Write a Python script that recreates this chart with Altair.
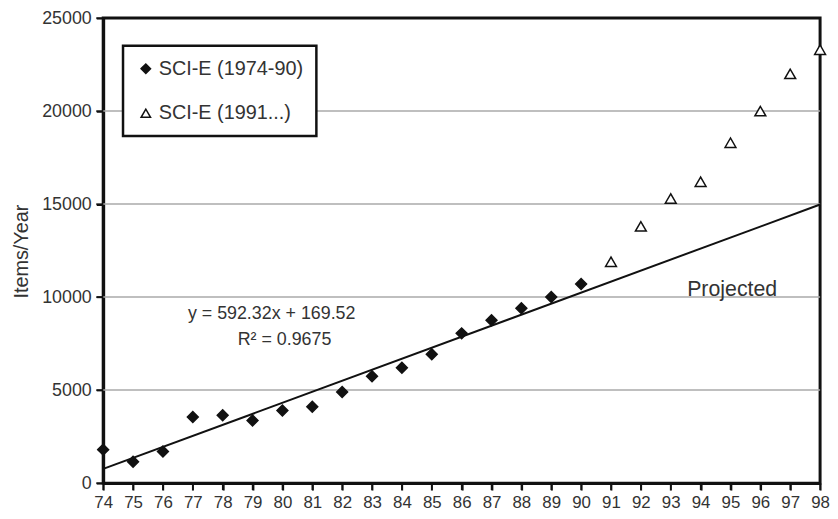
import altair as alt
import pandas as pd

# ---- data ----
years_a = [74, 75, 76, 77, 78, 79, 80, 81, 82, 83, 84, 85, 86, 87, 88, 89, 90]
vals_a = [1800, 1150, 1700, 3550, 3650, 3370, 3900, 4100, 4900, 5750, 6200, 6930, 8050, 8750, 9400, 10000, 10700]
years_b = [91, 92, 93, 94, 95, 96, 97, 98]
vals_b = [11900, 13800, 15300, 16200, 18300, 20000, 22000, 23300]
series_names = ["SCI-E (1974-90)", "SCI-E (1991...)"]

slope = 592.32
intercept = 169.52
fit_years = [74, 98]

eq_labels = ["y = 592.32x + 169.52", "R\u00b2 = 0.9675"]
eq_x = [79.64, 80.07]
eq_y = [9115, 7680]
proj_label = ["Projected"]
proj_x = [93.55]
proj_y = [10400]

x_ticks = list(range(74, 99))
y_ticks = [0, 5000, 10000, 15000, 20000, 25000]
grid_vals = [5000, 10000, 15000, 20000]

FONT = "Liberation Sans"
TXT = "#333333"
W, H = 723, 469
TICK = 7

pts = pd.DataFrame({
    "year": years_a + years_b,
    "value": vals_a + vals_b,
    "series": [series_names[0]] * len(years_a) + [series_names[1]] * len(years_b),
})
fit = pd.DataFrame({
    "year": fit_years,
    "value": [slope * (y - 73) + intercept for y in fit_years],
})
eq = pd.DataFrame({"label": eq_labels, "year": eq_x, "value": eq_y})
proj = pd.DataFrame({"label": proj_label, "year": proj_x, "value": proj_y})
grid = pd.DataFrame({"value": grid_vals})
xt = pd.DataFrame({"year": x_ticks})
yt = pd.DataFrame({"value": y_ticks})

xscale = alt.Scale(domain=[74, 98], nice=False, zero=False)
yscale = alt.Scale(domain=[0, 25000], nice=False)

common = dict(grid=False, domain=True, domainColor="#111111", domainWidth=3,
              ticks=True, tickSize=TICK, tickWidth=2, tickColor="#111111", tickOpacity=1,
              labelFont=FONT, labelColor=TXT, labelFlush=False, labelOverlap=False,
              labelPadding=5)
xaxis = alt.Axis(values=x_ticks, format="d", title=None, labelFontSize=17, **common)
yaxis = alt.Axis(values=y_ticks, format="d", title="Items/Year", labelFontSize=18,
                 titleFont=FONT, titleFontWeight="normal", titleColor=TXT,
                 titleX=-82, titleY=235, titleAngle=270,
                 titleAlign="center", titleBaseline="middle", titleFontSize=20, **common)

gridrules = alt.Chart(grid).mark_rule(color="#aaaaaa", strokeWidth=1.5).encode(
    y=alt.Y("value:Q", scale=yscale, axis=yaxis),
)

xtick_marks = alt.Chart(xt).mark_rule(color="#111111", strokeWidth=1.5).encode(
    x=alt.X("year:Q", scale=xscale, axis=xaxis),
    y=alt.value(H),
    y2=alt.value(H + TICK),
)
ytick_marks = alt.Chart(yt).mark_rule(color="#111111", strokeWidth=1.5).encode(
    y=alt.Y("value:Q", scale=yscale, axis=yaxis),
    x=alt.value(-TICK),
    x2=alt.value(0),
)

line = alt.Chart(fit).mark_line(color="#111", strokeWidth=2).encode(
    x=alt.X("year:Q", scale=xscale, axis=xaxis),
    y=alt.Y("value:Q", scale=yscale, axis=yaxis),
)

leg = alt.Legend(title=None, orient="none", legendX=20, legendY=28)

points = alt.Chart(pts).mark_point(filled=True, size=120, strokeWidth=1.5,
                                   opacity=1).encode(
    x=alt.X("year:Q", scale=xscale, axis=xaxis),
    y=alt.Y("value:Q", scale=yscale, axis=yaxis),
    shape=alt.Shape("series:N", scale=alt.Scale(domain=series_names, range=["diamond", "triangle-up"]),
                    legend=leg),
    fill=alt.Fill("series:N", scale=alt.Scale(domain=series_names, range=["#111111", "#ffffff"]),
                  legend=leg),
    stroke=alt.Stroke("series:N", scale=alt.Scale(domain=series_names, range=["#111111", "#111111"]),
                      legend=leg),
)

eq_text = alt.Chart(eq).mark_text(align="center", baseline="middle", fontSize=18, font=FONT,
                                  color=TXT).encode(
    x=alt.X("year:Q", scale=xscale, axis=xaxis),
    y=alt.Y("value:Q", scale=yscale, axis=yaxis),
    text="label:N",
)
proj_text = alt.Chart(proj).mark_text(align="left", baseline="middle", fontSize=21.5, font=FONT,
                                      color=TXT).encode(
    x=alt.X("year:Q", scale=xscale, axis=xaxis),
    y=alt.Y("value:Q", scale=yscale, axis=yaxis),
    text="label:N",
)

chart = alt.layer(gridrules, xtick_marks, ytick_marks, line, eq_text, proj_text, points).properties(
    width=W, height=H,
    autosize=alt.AutoSizeParams(type="none"),
    padding={"left": 96, "top": 8, "right": 10, "bottom": 30},
    background="white",
).configure_view(
    stroke="#111111", strokeWidth=3
).configure_legend(
    strokeColor="#111", strokeWidth=2.5, fillColor="white",
    padding=13, rowPadding=25, labelFontSize=20, labelFont=FONT,
    labelColor=TXT, symbolSize=90, symbolStrokeWidth=1.5, labelOffset=3, symbolOpacity=1,
)

chart.save("out.html", embed_options={"renderer": "svg", "actions": False})
